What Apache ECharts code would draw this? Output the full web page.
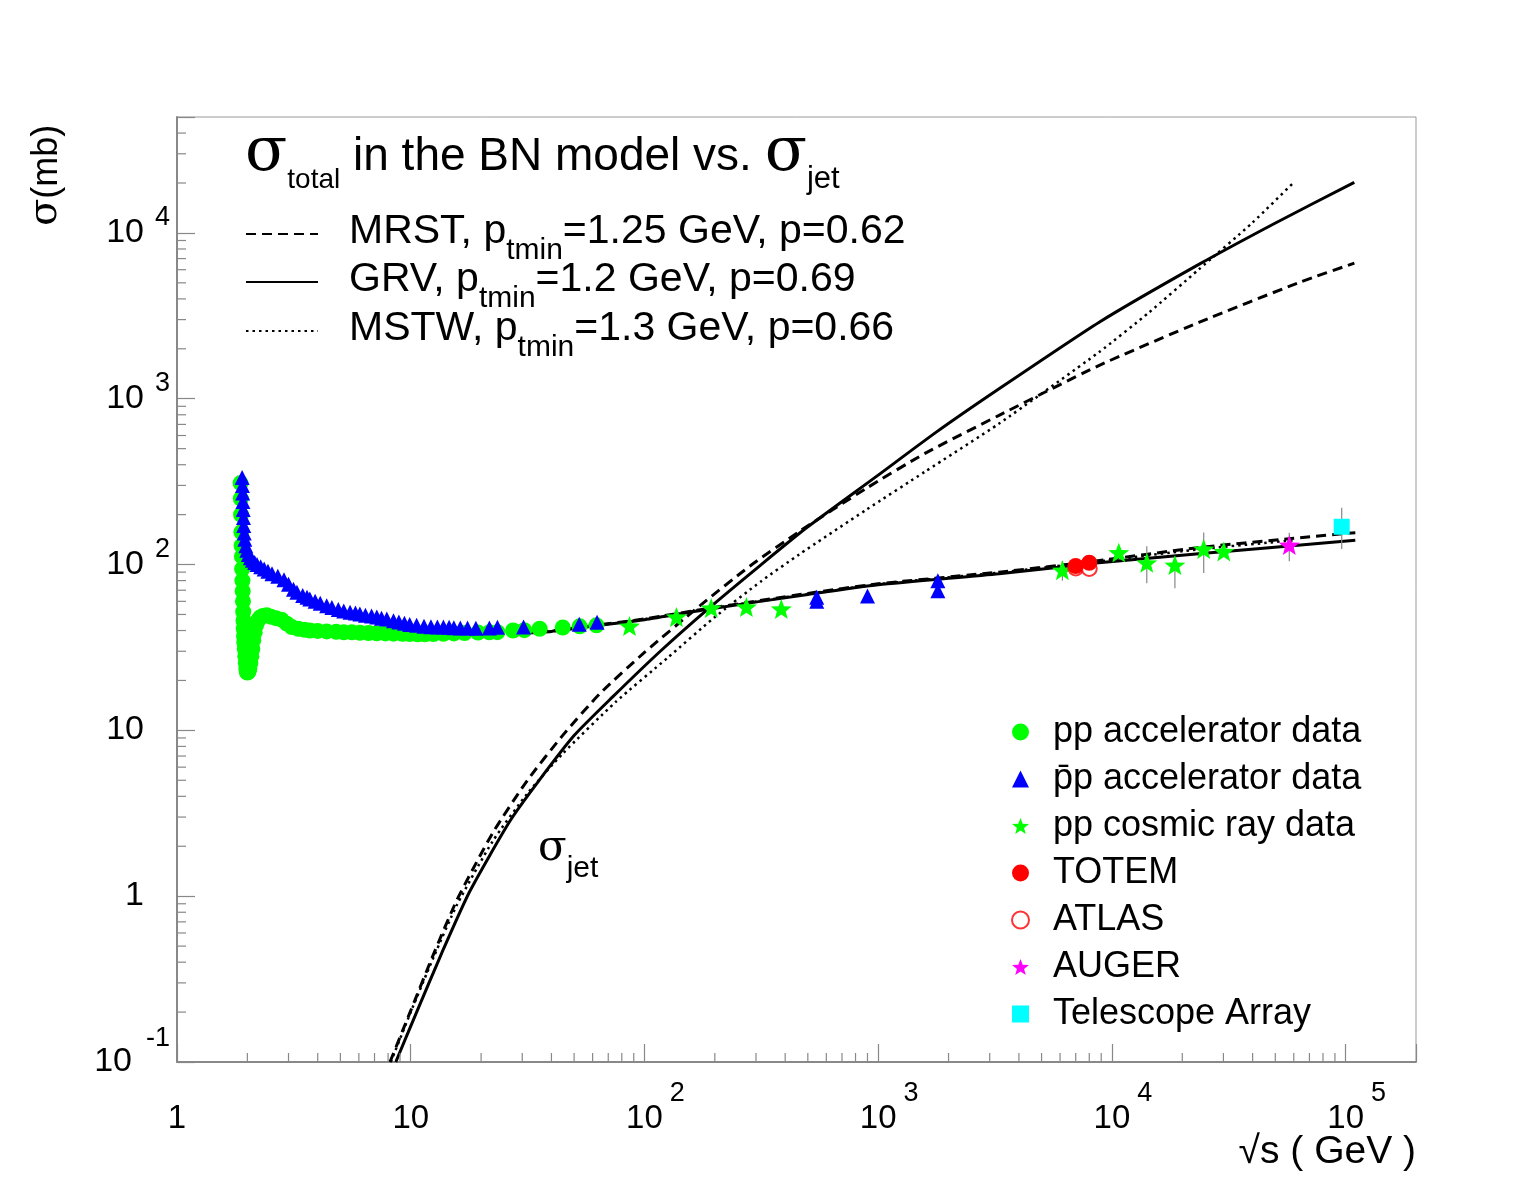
<!DOCTYPE html>
<html>
<head>
<meta charset="utf-8">
<script src="https://cdn.jsdelivr.net/npm/echarts@6/dist/echarts.min.js"></script>
<style>
  html, body { margin: 0; padding: 0; background: #fff; }
  #chart { width: 1536px; height: 1182px; }
</style>
</head>
<body>
<div id="chart"></div>
<script>
// sqrt(s) in GeV, sigma in mb

const ppAccel = [
  [1.87, 310], [1.875, 250], [1.88, 200], [1.885, 157], [1.89, 130], [1.895, 112],
  [1.90, 94], [1.905, 80], [1.91, 69], [1.915, 60], [1.92, 52], [1.925, 46],
  [1.93, 41], [1.935, 37], [1.94, 34], [1.95, 31], [1.96, 28], [1.97, 25.5],
  [1.98, 23.5], [1.99, 22.5], [2.00, 22.3], [2.02, 22.5], [2.04, 23.5], [2.06, 25.5],
  [2.08, 28], [2.10, 31], [2.12, 35], [2.15, 39], [2.18, 43], [2.22, 46],
  [2.27, 48], [2.33, 49], [2.42, 49.5], [2.52, 48.5], [2.65, 47.5], [2.8, 46.5],
  [2.95, 44], [3.1, 42], [3.3, 41], [3.5, 40.5], [3.7, 40], [4.0, 39.8],
  [4.37, 39.5], [4.8, 39.3], [5.17, 39], [5.6, 39], [6.06, 38.8], [6.6, 38.6],
  [7.16, 38.5], [7.8, 38.4], [8.44, 38.3], [9.2, 38.2], [9.9, 38.1], [10.7, 38.0],
  [11.5, 38.0], [12.5, 38.1], [13.8, 38.2], [15.3, 38.4], [17.0, 38.6], [19.4, 38.9],
  [21.7, 39.0], [23.5, 39.1], [27.4, 40.0], [30.6, 40.2], [35.6, 41.0], [44.7, 41.7],
  [52.8, 42.4], [62.3, 43.0]
];

const ppbarAccel = [
  [1.9, 335], [1.905, 300], [1.91, 270], [1.915, 240], [1.92, 215], [1.925, 192],
  [1.93, 172], [1.94, 155], [1.95, 142], [1.97, 130], [1.99, 122], [2.02, 115],
  [2.06, 110], [2.1, 106], [2.15, 103], [2.2, 100], [2.28, 97], [2.36, 94],
  [2.45, 91], [2.55, 88], [2.7, 85], [2.87, 81], [3.0, 76], [3.15, 71],
  [3.26, 68], [3.45, 65], [3.6, 63.5], [3.7, 62], [3.9, 60], [4.1, 58.5],
  [4.37, 56.5], [4.6, 55], [4.9, 53.5], [5.17, 52.5], [5.5, 51.5], [5.8, 51],
  [6.06, 50.3], [6.4, 49.5], [6.8, 49], [7.16, 48.3], [7.5, 47.5], [7.9, 47],
  [8.44, 45.8], [8.9, 45], [9.4, 44.2], [9.9, 43.5], [10.6, 43], [11.4, 42.4],
  [12.2, 42.2], [13.0, 42], [13.8, 42], [14.6, 41.8], [15.3, 41.6], [16.3, 41.5],
  [17.5, 41.4], [19.0, 41.3], [21.7, 41.5], [23.5, 41.8], [30.4, 42.0], [52.6, 43.6],
  [62.7, 44.8], [546, 63.5], [546, 60], [900, 64.6], [1800, 79.8], [1800, 69.5]
];

const ppCosmic = [
  [86.3, 42.6], [137, 48.3], [193, 54.7], [273, 55.5], [385, 54],
  [6140, 92.5], [10700, 118], [14100, 102.4], [18600, 99.2], [24700, 124], [30100, 120]
];
// [x, low, high]
const cosmicErr = [
  [6140, 80, 105], [14100, 77, 129], [18600, 72, 112], [24700, 89, 156]
];

const totem = [[7000, 98], [8000, 102.5]];
const atlas = [[7000, 95.4], [8000, 94.8]];
const auger = [[57400, 131]];
const augerErr = [[57400, 104.6, 155.6]];
const telescopeArray = [[96200, 169]];
const taErr = [[96200, 124, 220]];

// sigma_jet curves
const jetMRST = [
  [8.15, 0.1], [10, 0.204], [12.6, 0.457], [15.8, 0.955], [22.4, 2.4], [31.6, 5.01],
  [44.7, 9.33], [64.3, 16.6], [100, 29.5], [172, 56.2], [282, 97.7], [459, 158],
  [889, 288], [1585, 468], [3290, 794], [8790, 1585], [23550, 2884], [63000, 5012],
  [109000, 6577]
];
const jetGRV = [
  [8.63, 0.1], [10.6, 0.2], [13.6, 0.457], [17.9, 1.07], [26.5, 2.82], [35.5, 5.01],
  [50.1, 9.33], [72.9, 15.85], [117.5, 30.2], [190, 55], [316, 100], [492, 166],
  [980, 339], [1778, 631], [3290, 1148], [8790, 2884], [23550, 6457], [50100, 11480],
  [108900, 20180]
];
const jetMSTW = [
  [8.22, 0.1], [10, 0.2], [12.6, 0.437], [15.8, 0.891], [22.4, 2.14], [31.6, 4.17],
  [44.7, 7.24], [75.2, 14.8], [126, 27.5], [199, 47.9], [316, 79.4], [459, 115],
  [889, 214], [1585, 363], [3290, 708], [8790, 1905], [14400, 3311], [23550, 6026],
  [39800, 11480], [60500, 20420]
];

// sigma_total curves
const totMRST = [
  [30, 38.6], [40, 39.7], [64, 43.3], [100, 47], [190, 54.5], [500, 67], [1000, 76.5],
  [3290, 90], [8550, 105], [22850, 126], [60000, 144], [110000, 155.6]
];
const totGRV = [
  [30, 38.5], [40, 39.5], [64, 43], [100, 46.5], [190, 54], [500, 66], [1000, 75.5],
  [3290, 88], [8550, 102], [22850, 115.6], [110000, 140]
];
const totMSTW = [
  [30, 38.5], [40, 39.5], [64, 43.1], [100, 46.8], [190, 54.2], [500, 66.5], [1000, 76],
  [3290, 89.5], [8550, 104], [22850, 123], [60000, 140]
];

const curveNames = ['MRST', 'GRV', 'MSTW'];
const curvePtmin = ['1.25', '1.2', '1.3'];
const curveP = ['0.62', '0.69', '0.66'];

const dataNames = [
  'pp accelerator data', 'p\u0304p accelerator data', 'pp cosmic ray data',
  'TOTEM', 'ATLAS', 'AUGER', 'Telescope Array'
];

const xTickPowers = [0, 1, 2, 3, 4, 5];
const yTickPowers = [-1, 0, 1, 2, 3, 4];

const X_MIN = 1, X_MAX = 2e5, Y_MIN = 0.1, Y_MAX = 5e4;

const SANS = "'Liberation Sans', Arial, Helvetica, sans-serif";
const SERIF = "'DejaVu Serif', 'Liberation Serif', serif";
const AXIS_GREY = '#888';
const STAR = 'path://M50,0L62.3,33L97.55,34.55L70,56.5L79.39,90.45L50,71L20.61,90.45L30,56.5L2.45,34.55L37.7,33Z';

// rich token whose baseline sits at `base` inside a box of height H
function tok(size, family, base, H, padLeft) {
  const top = base - 0.35 * size - size / 2;
  return {
    fontSize: size, fontFamily: family, lineHeight: size, color: '#000',
    padding: [top, 0, H - top - size, padLeft || 0]
  };
}

function powerOf(v) {
  const e = Math.round(Math.log10(v));
  return Math.abs(v / Math.pow(10, e) - 1) < 1e-6 ? e : null;
}

// minor ticks 2..9 x 10^k inside the axis range
function minorValues(lo, hi) {
  const out = [];
  for (let k = Math.floor(Math.log10(lo)); k <= Math.ceil(Math.log10(hi)); k++) {
    for (let m = 2; m <= 9; m++) {
      const v = m * Math.pow(10, k);
      if (v > lo && v < hi) out.push(v);
    }
  }
  return out;
}

const chart = echarts.init(document.getElementById('chart'));

function curve(name, data, dash, width) {
  return {
    type: 'line', name: name, data: data, symbol: 'none', showSymbol: false,
    smooth: 0.2, silent: true, z: 3,
    lineStyle: { color: '#000', width: width, type: dash }
  };
}

function errBars(name, data) {
  return {
    type: 'custom', name: name + ' err', data: data, silent: true, z: 4,
    encode: { x: 0, y: [1, 2] },
    renderItem: function (params, api) {
      const a = api.coord([api.value(0), api.value(1)]);
      const b = api.coord([api.value(0), api.value(2)]);
      return {
        type: 'line', shape: { x1: a[0], y1: a[1], x2: b[0], y2: b[1] },
        style: { stroke: AXIS_GREY, lineWidth: 1.2 }
      };
    }
  };
}

function dots(name, data, symbol, size, color, z, extra) {
  return Object.assign({
    type: 'scatter', name: name, data: data, symbol: symbol, symbolSize: size,
    symbolKeepAspect: true, silent: true, z: z,
    itemStyle: { color: color, opacity: 1 }
  }, extra || {});
}

const legendRich = {
  g: { width: 26, fontSize: 10, lineHeight: 10 },
  n: tok(41, SANS, 44, 64),
  s: tok(30, SANS, 59, 64)
};
const legendRows = [202, 250, 299];

const curveLegends = curveNames.map(function (nm, i) {
  return {
    data: [nm], left: 245, top: legendRows[i], orient: 'vertical', padding: 0,
    selectedMode: false, itemWidth: 72, itemHeight: 14,
    itemStyle: { opacity: 0 },
    textStyle: { color: '#000', rich: legendRich },
    formatter: function () {
      return '{g| }{n|' + nm + ', p}{s|tmin}{n|=' + curvePtmin[i] + ' GeV, p=' + curveP[i] + '}';
    }
  };
});

const dataLegend = {
  data: dataNames, left: 1011, top: 714, orient: 'vertical', padding: 0,
  selectedMode: false, itemWidth: 17, itemHeight: 17, itemGap: 11,
  textStyle: {
    color: '#000',
    rich: { d: { fontSize: 36, fontFamily: SANS, lineHeight: 36, color: '#000', padding: [0, 0, 0, 19] } }
  },
  formatter: function (name) { return '{d|' + name + '}'; }
};

const option = {
  animation: false,
  backgroundColor: '#fff',
  textStyle: { fontFamily: SANS },
  grid: {
    left: 177, right: 120, top: 117, bottom: 120,
    show: true, borderColor: '#999', borderWidth: 1, backgroundColor: 'transparent'
  },
  legend: curveLegends.concat([dataLegend]),
  xAxis: {
    type: 'log', logBase: 10, min: X_MIN, max: X_MAX,
    axisLine: { show: true, onZero: false, lineStyle: { color: AXIS_GREY, width: 2 } },
    axisTick: { show: true, inside: true, length: 18, lineStyle: { color: AXIS_GREY, width: 1.2 } },
    minorTick: { show: false },
    splitLine: { show: false },
    axisLabel: {
      margin: 30, color: '#000',
      formatter: function (v) {
        const e = powerOf(v);
        if (e === null || xTickPowers.indexOf(e) < 0) return '';
        if (e === 0) return '{xb|1}';
        if (e === 1) return '{xb|10}';
        return '{xp| }{xb|10}{xe|' + e + '}';
      },
      rich: {
        xb: tok(33, SANS, 50, 56),
        xe: tok(27, SANS, 22, 56, 7),
        xp: { width: 22, fontSize: 10, lineHeight: 10 }
      }
    }
  },
  yAxis: {
    type: 'log', logBase: 10, min: Y_MIN, max: Y_MAX,
    axisLine: { show: true, onZero: false, lineStyle: { color: AXIS_GREY, width: 2 } },
    axisTick: { show: true, inside: true, length: 18, lineStyle: { color: AXIS_GREY, width: 1.2 } },
    minorTick: { show: false },
    splitLine: { show: false },
    axisLabel: {
      margin: 7, color: '#000',
      formatter: function (v) {
        const e = powerOf(v);
        if (e === null || yTickPowers.indexOf(e) < 0) return '';
        if (e === -1) return '{yb2|10}{ye2|-1}';
        if (e === 0) return '{yb|1}{yp| }';
        if (e === 1) return '{yb|10}{yp| }';
        return '{yb|10}{ye|' + e + '}';
      },
      rich: {
        yb: tok(34, SANS, 40, 57),
        ye: tok(27, SANS, 23, 57, 11),
        yp: { width: 26, fontSize: 10, lineHeight: 10 },
        yb2: tok(34, SANS, 49, 75),
        ye2: tok(27, SANS, 23, 75, 14)
      }
    }
  },
  graphic: [
    {
      type: 'text', x: 245, y: 126, silent: true,
      style: {
        text: '{s|σ}{t|total}{n| in the BN model vs. }{s|σ}{u|jet}',
        rich: {
          s: tok(62, SERIF, 59, 80),
          t: tok(28, SANS, 73, 80),
          u: tok(31, SANS, 73, 80),
          n: tok(46, SANS, 56, 80)
        }
      }
    },
    {
      type: 'text', x: 538, y: 836, silent: true,
      style: {
        text: '{s|σ}{t|jet}',
        rich: { s: tok(42, SERIF, 38, 62), t: tok(30, SANS, 53, 62) }
      }
    },
    {
      type: 'text', x: 1416, y: 1152, silent: true,
      style: { text: '√s ( GeV )', font: '39px ' + SANS, fill: '#000', align: 'right', verticalAlign: 'middle' }
    },
    {
      type: 'text', x: 28, y: 226, rotation: Math.PI / 2, silent: true,
      style: {
        text: '{s|σ}{n|(mb)}', align: 'left', verticalAlign: 'top',
        rich: { s: tok(40, SERIF, 34, 44), n: tok(36, SANS, 34, 44) }
      }
    }
  ],
  series: [
    {
      type: 'custom', name: 'x minor', silent: true, z: 5,
      data: minorValues(X_MIN, X_MAX).map(function (v) { return [v, Y_MIN]; }),
      renderItem: function (params, api) {
        const p = api.coord([api.value(0), api.value(1)]);
        return { type: 'line', shape: { x1: p[0], y1: p[1], x2: p[0], y2: p[1] - 9 },
          style: { stroke: AXIS_GREY, lineWidth: 1.2 } };
      }
    },
    {
      type: 'custom', name: 'y minor', silent: true, z: 5,
      data: minorValues(Y_MIN, Y_MAX).map(function (v) { return [X_MIN, v]; }),
      renderItem: function (params, api) {
        const p = api.coord([api.value(0), api.value(1)]);
        return { type: 'line', shape: { x1: p[0], y1: p[1], x2: p[0] + 9, y2: p[1] },
          style: { stroke: AXIS_GREY, lineWidth: 1.2 } };
      }
    },
    curve('MRST', jetMRST, [10, 6], 3),
    curve('GRV', jetGRV, 'solid', 3),
    curve('MSTW', jetMSTW, [2.5, 4], 2.5),
    curve('MRST', totMRST, [10, 6], 3),
    curve('GRV', totGRV, 'solid', 3),
    curve('MSTW', totMSTW, [2.5, 4], 2.5),
    errBars('cosmic', cosmicErr),
    errBars('auger', augerErr),
    errBars('ta', taErr),
    dots(dataNames[0], ppAccel, 'circle', 16, '#00ff00', 6),
    dots(dataNames[1], ppbarAccel, 'triangle', 15, '#0000ff', 7),
    dots(dataNames[2], ppCosmic, STAR, 21, '#00ff00', 8),
    dots(dataNames[3], totem, 'circle', 16, '#ff0000', 9),
    dots(dataNames[4], atlas, 'emptyCircle', 15, '#ff0000', 8, {
      itemStyle: { color: '#ff0000', borderColor: '#ff0000', borderWidth: 2 }
    }),
    dots(dataNames[5], auger, STAR, 21, '#ff00ff', 9),
    dots(dataNames[6], telescopeArray, 'rect', 16, '#00ffff', 9)
  ]
};

chart.setOption(option);
</script>
</body>
</html>
